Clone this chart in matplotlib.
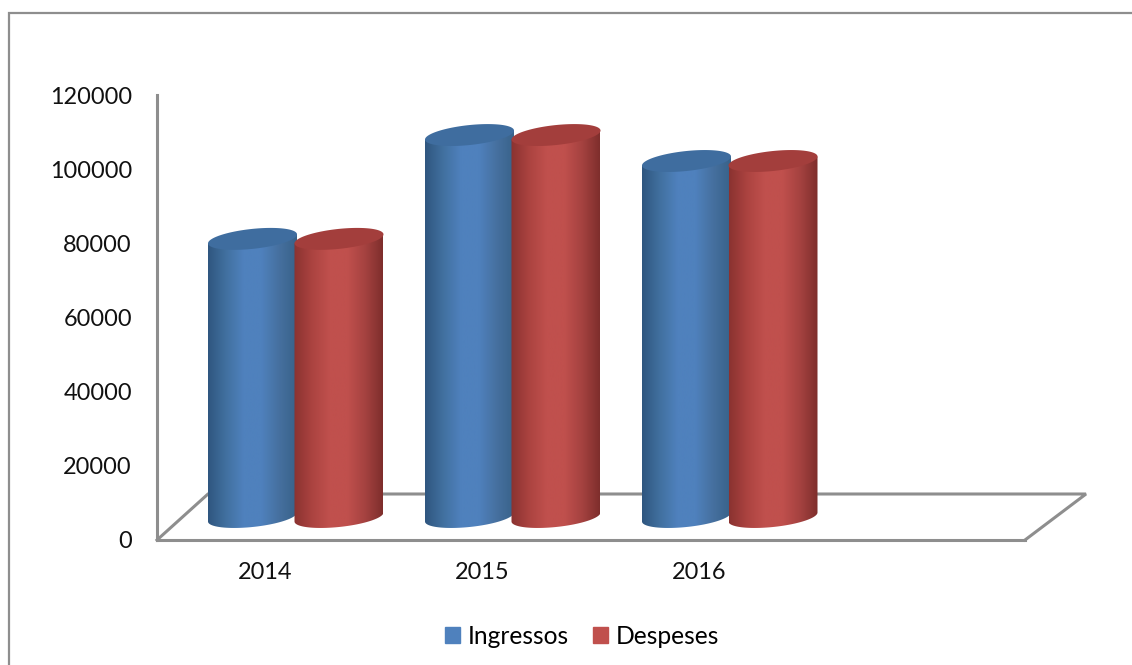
import numpy as np
import matplotlib
matplotlib.use('Agg')
import matplotlib.pyplot as plt
from matplotlib.colors import LinearSegmentedColormap
from matplotlib.patches import Patch, Polygon

plt.rcParams['font.family'] = ['Lato', 'DejaVu Sans']

years = ['2014', '2015', '2016', '']
ingressos = [75000, 103000, 96000]
despeses = [75000, 103000, 96000]
yticks = [0, 20000, 40000, 60000, 80000, 100000, 120000]

W, H = 1132, 665
fig = plt.figure(figsize=(W / 100, H / 100), dpi=100)
ax = fig.add_axes([0, 0, 1, 1])

# pixels per unit on each axis, 3d look is faked with pixel offsets
px_x = 217.0
px_y = 445.0 / 120000
GRAY = '#8e8e8e'


def dx(p):
    return p / px_x


def dy(p):
    return p / px_y


xlim = (-0.5 - dx(157), -0.5 + dx(W - 157))
ylim = (-dy(H - 540), dy(540))


def cylinder(xc, val, body, top):
    a = dx(44.5)
    t = np.linspace(0, 2 * np.pi, 120)
    base = dy(23)
    top_y = base + val
    ex = a * np.cos(t)
    ey = dy(10) * np.sin(t) + dy(4.5) * np.cos(t)
    # body outline: lower edge of the base up to the sides of the top ellipse
    t2 = np.linspace(np.pi, 2 * np.pi, 60)
    lx = xc + a * np.cos(t2)
    ly = base + dy(10) * np.sin(t2) + dy(4.5) * np.cos(t2)
    pts = np.column_stack([
        np.r_[lx, xc + a, xc - a],
        np.r_[ly, top_y + dy(4.5), top_y - dy(4.5)],
    ])
    cmap = LinearSegmentedColormap.from_list('c', body)
    grad = np.linspace(0, 1, 256).reshape(1, -1)
    im = ax.imshow(grad, cmap=cmap, aspect='auto', zorder=3 + xc,
                   extent=(xc - a, xc + a, base - dy(15), top_y + dy(15)))
    clip = Polygon(pts, closed=True, transform=ax.transData, fc='none', ec='none')
    ax.add_patch(clip)
    im.set_clip_path(clip)
    ax.fill(xc + ex, top_y + ey, color=top, lw=0, zorder=3.01 + xc)


blue_body = ['#2f567f', '#41709f', '#4f81bd', '#4f81bd', '#46709f', '#386289']
red_body = ['#8a3230', '#ab4340', '#c0504d', '#c0504d', '#a54240', '#7e2e2c']

# floor of the 3d box
ax.plot([-0.5, -0.5 + dx(51), -0.5 + dx(929), -0.5 + dx(868)],
        [0, dy(46), dy(46), 0], color=GRAY, lw=2.2, zorder=1, solid_joinstyle='miter')

for i in range(len(ingressos)):
    cylinder(i + dx(-13), ingressos[i], blue_body, '#3f6d9f')
    cylinder(i + dx(73.5), despeses[i], red_body, '#a33e3c')

# outer chart frame, only left and top show in the crop
ax.plot([xlim[0] + dx(9), xlim[0] + dx(9), xlim[1]],
        [ylim[0], dy(540 - 12.5), dy(540 - 12.5)],
        color=GRAY, lw=1.6, zorder=0, solid_joinstyle='miter')

ax.set_xlim(xlim)
ax.set_ylim(ylim)

ax.spines[['top', 'right']].set_visible(False)
ax.spines['left'].set_position(('data', -0.5))
ax.spines['bottom'].set_position(('data', 0))
ax.spines['left'].set_bounds(0, 120000)
ax.spines['bottom'].set_bounds(-0.5, 3.5)
for s in ['left', 'bottom']:
    ax.spines[s].set_color(GRAY)
    ax.spines[s].set_linewidth(2.2)
    ax.spines[s].set_zorder(2)

ax.set_yticks(yticks)
ax.set_xticks(range(len(years)))
ax.set_xticklabels(years)
ax.tick_params(axis='y', length=0, pad=18, labelsize=16.9, labelcolor='#111111')
ax.tick_params(axis='x', length=0, pad=16, labelsize=16.9, labelcolor='#111111')

handles = [Patch(color='#4f81bd', label='Ingressos'), Patch(color='#c0504d', label='Despeses')]
ax.legend(handles=handles, ncol=2, frameon=False, loc='center',
          bbox_to_anchor=(582 / W, 1 - 636 / H), fontsize=17.7,
          handlelength=0.6, handleheight=0.6, handletextpad=0.3, columnspacing=1.0)

fig.savefig('out.png', dpi=100)
